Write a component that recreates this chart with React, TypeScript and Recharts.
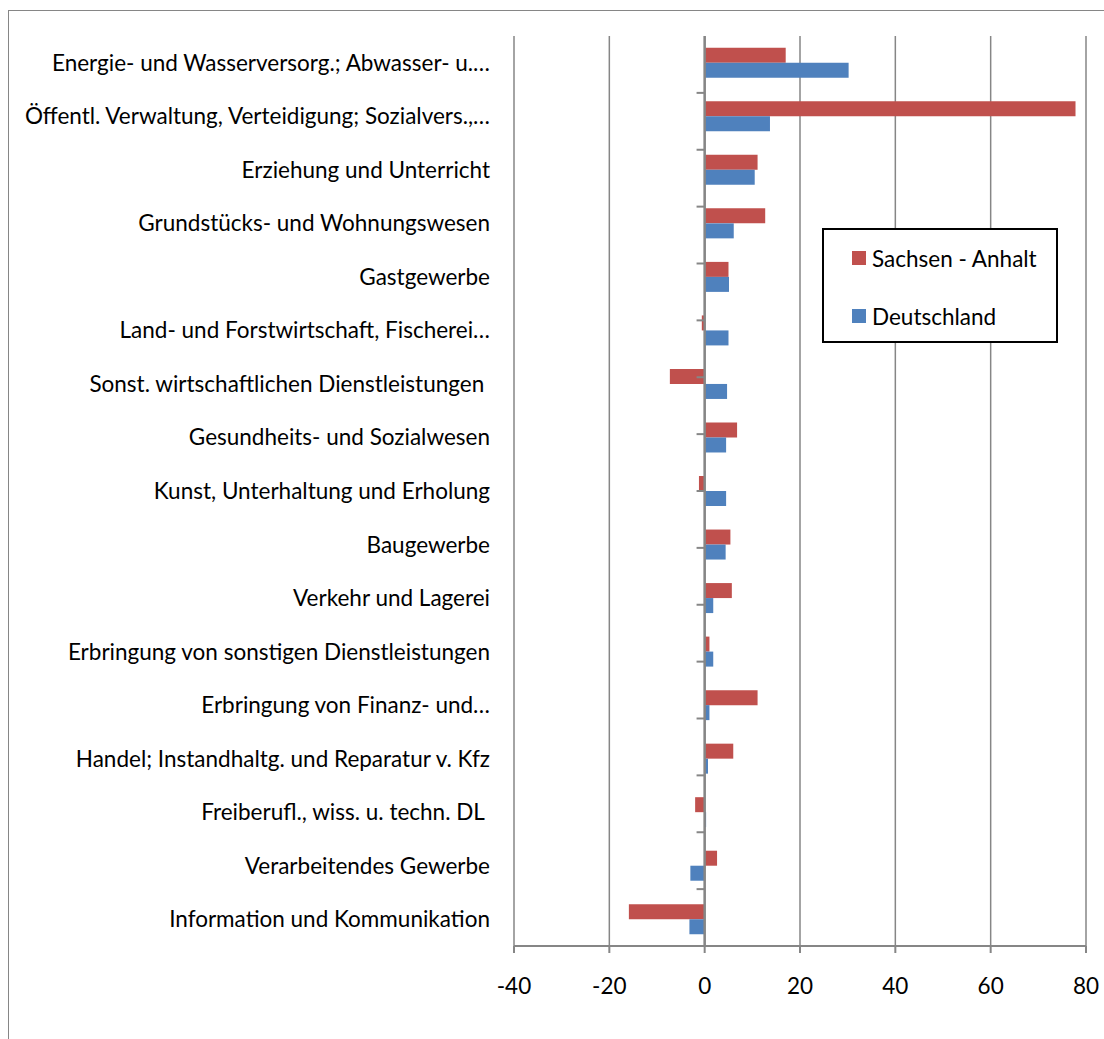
import { Bar, BarChart, CartesianGrid, Legend, ReferenceLine, XAxis, YAxis } from "recharts"

const categories = [
  "Energie- und Wasserversorg.; Abwasser- u.…",
  "Öffentl. Verwaltung, Verteidigung; Sozialvers.,…",
  "Erziehung und Unterricht",
  "Grundstücks- und Wohnungswesen",
  "Gastgewerbe",
  "Land- und Forstwirtschaft, Fischerei…",
  "Sonst. wirtschaftlichen Dienstleistungen\u00A0",
  "Gesundheits- und Sozialwesen",
  "Kunst, Unterhaltung und Erholung",
  "Baugewerbe",
  "Verkehr und Lagerei",
  "Erbringung von sonstigen Dienstleistungen",
  "Erbringung von Finanz- und…",
  "Handel; Instandhaltg. und Reparatur v. Kfz",
  "Freiberufl., wiss. u. techn. DL\u00A0",
  "Verarbeitendes Gewerbe",
  "Information und Kommunikation",
]

const sachsenAnhalt = [17.0, 77.8, 11.1, 12.7, 5.0, -0.6, -7.3, 6.8, -1.2, 5.4, 5.7, 1.0, 11.1, 6.0, -2.0, 2.6, -15.9]
const deutschland = [30.2, 13.7, 10.5, 6.1, 5.1, 5.0, 4.7, 4.5, 4.5, 4.4, 1.8, 1.8, 1.0, 0.7, 0.3, -3.0, -3.2]

const xTicks = [-40, -20, 0, 20, 40, 60, 80]

const series = [
  { key: "sachsen", name: "Sachsen - Anhalt", color: "#C0504D" },
  { key: "deutschland", name: "Deutschland", color: "#4F81BD" },
]

const data = categories.map((name, i) => ({
  name,
  sachsen: sachsenAnhalt[i],
  deutschland: deutschland[i],
}))

// category boundaries for the little tick marks on the zero axis
const boundaries = categories.map((_, i) => i + 1)

const FONT = "Lato, 'Open Sans', sans-serif"
const GRID = "#868686"

function CategoryTick({ x, y, payload }: any) {
  return (
    <text x={x} y={y} dy="0.355em" textAnchor="end" fontSize={22.5} fontFamily={FONT} fill="#000">
      {payload.value}
    </text>
  )
}

function LegendBox() {
  return (
    <div
      style={{
        width: 236,
        height: 115,
        boxSizing: "border-box",
        border: "2px solid #000",
        background: "#fff",
        fontFamily: FONT,
        fontSize: 22.5,
        color: "#000",
        paddingTop: 13,
      }}
    >
      {series.map((s) => (
        <div key={s.key} style={{ display: "flex", alignItems: "center", height: 30, marginLeft: 28, marginBottom: 28 }}>
          <span style={{ width: 14, height: 14, background: s.color, marginRight: 6, display: "inline-block" }} />
          <span>{s.name}</span>
        </div>
      ))}
    </div>
  )
}

export default function App() {
  return (
    <>
      <div
        style={{
          position: "absolute",
          left: 8,
          top: 10,
          width: 1096,
          height: 1029,
          boxSizing: "border-box",
          borderTop: `1.5px solid ${GRID}`,
          borderLeft: `1.5px solid ${GRID}`,
        }}
      />
      <div style={{ position: "absolute", left: 0, top: 0 }}>
        <BarChart
          width={1104}
          height={1039}
          data={data}
          layout="vertical"
          margin={{ top: 36, right: 18, bottom: 33, left: 0 }}
          barCategoryGap="22%"
          barGap={0}
        >
          <CartesianGrid horizontal={false} stroke={GRID} strokeWidth={1.5} />
          <XAxis
            type="number"
            domain={[-40, 80]}
            ticks={xTicks}
            interval={0}
            height={60}
            stroke={GRID}
            strokeWidth={2}
            tickSize={7}
            tickMargin={25}
            tick={{ fill: "#000", fontSize: 22.5, fontFamily: FONT }}
          />
          <YAxis
            type="category"
            dataKey="name"
            width={514}
            axisLine={false}
            tickLine={false}
            tickSize={0}
            tickMargin={24}
            interval={0}
            tick={<CategoryTick />}
          />
          <YAxis yAxisId="edge" type="number" domain={[0, 17]} allowDataOverflow hide />
          <ReferenceLine x={0} stroke={GRID} strokeWidth={2.5} />
          {boundaries.map((b) => (
            <ReferenceLine
              key={b}
              yAxisId="edge"
              segment={[{ x: -1.7, y: b }, { x: 0, y: b }]}
              stroke={GRID}
              strokeWidth={2}
            />
          ))}
          {series.map((s) => (
            <Bar key={s.key} dataKey={s.key} name={s.name} fill={s.color} isAnimationActive={false} />
          ))}
          <Legend
            layout="vertical"
            align="center"
            verticalAlign="middle"
            content={<LegendBox />}
            wrapperStyle={{ left: 822, top: 228, width: 236 }}
          />
        </BarChart>
      </div>
    </>
  )
}
